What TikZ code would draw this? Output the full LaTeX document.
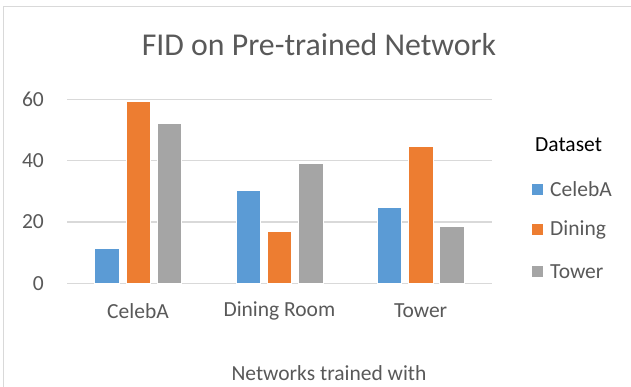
\documentclass[tikz,border=0pt]{standalone}
\usepackage{fontspec}
\setmainfont{Carlito}
\definecolor{cblue}{HTML}{5B9BD5}
\definecolor{corange}{HTML}{ED7D31}
\definecolor{cgray}{HTML}{A5A5A5}
\definecolor{ctext}{HTML}{595959}
\definecolor{cgrid}{HTML}{D9D9D9}
\begin{document}
\begin{tikzpicture}[x=1pt,y=-1pt,
  lbl/.style={text=ctext,inner sep=0pt,font=\fontsize{21.5}{25}\selectfont},
  grid/.style={draw=cgrid,line width=1.3pt},
  bar/.style={draw=white,line width=0.6pt}]
\useasboundingbox (0,0) rectangle (631,387);
\fill[white] (0,0) rectangle (631,387);
% border
\draw[grid] (631,6.6) -- (3.6,6.6) -- (3.6,387);
% gridlines
\foreach \v in {0,20,40,60} {
  \draw[grid] (67.3,{283.3-3.067*\v}) -- (491.7,{283.3-3.067*\v});
  \node[lbl,anchor=east] (y\v) at (44,{283.3-3.067*\v}) {\v};
}
% bars
\newcommand{\mybar}[3]{\filldraw[bar,fill=#3] (#1,283.3) rectangle ({#1+24.6},{283.3-3.067*#2});}
\mybar{94.6}{11.4}{cblue}
\mybar{125.8}{59.4}{corange}
\mybar{157.0}{52.2}{cgray}
\mybar{235.8}{30.4}{cblue}
\mybar{267.0}{17.05}{corange}
\mybar{298.4}{39.1}{cgray}
\mybar{377.0}{24.8}{cblue}
\mybar{408.2}{44.6}{corange}
\mybar{439.6}{18.5}{cgray}
% category labels
\node[lbl] (c1) at (138,311) {CelebA};
\node[lbl] (c2) at (279.4,311) {Dining Room};
\node[lbl] (c3) at (420.6,311) {Tower};
% title
\node[text=ctext,inner sep=0pt,font=\fontsize{31.8}{36}\selectfont] (title) at (319,45) {FID on Pre-trained Network};
% axis title
\node[lbl] (xt) at (329,373) {Networks trained with};
% legend
\node[inner sep=0pt,anchor=west,text=black,font=\fontsize{21.5}{25}\selectfont] (lt) at (535,145) {Dataset};
\fill[cblue] (532.3,183.8) rectangle (543.3,194.8);
\node[lbl,anchor=west] (l1) at (550,189.3) {CelebA};
\fill[corange] (532.3,224.5) rectangle (543.3,235.5);
\node[lbl,anchor=west] (l2) at (550,230) {Dining};
\fill[cgray] (532.3,266.2) rectangle (543.3,277.2);
\node[lbl,anchor=west] (l3) at (550,271.7) {Tower};
\end{tikzpicture}
\end{document}
